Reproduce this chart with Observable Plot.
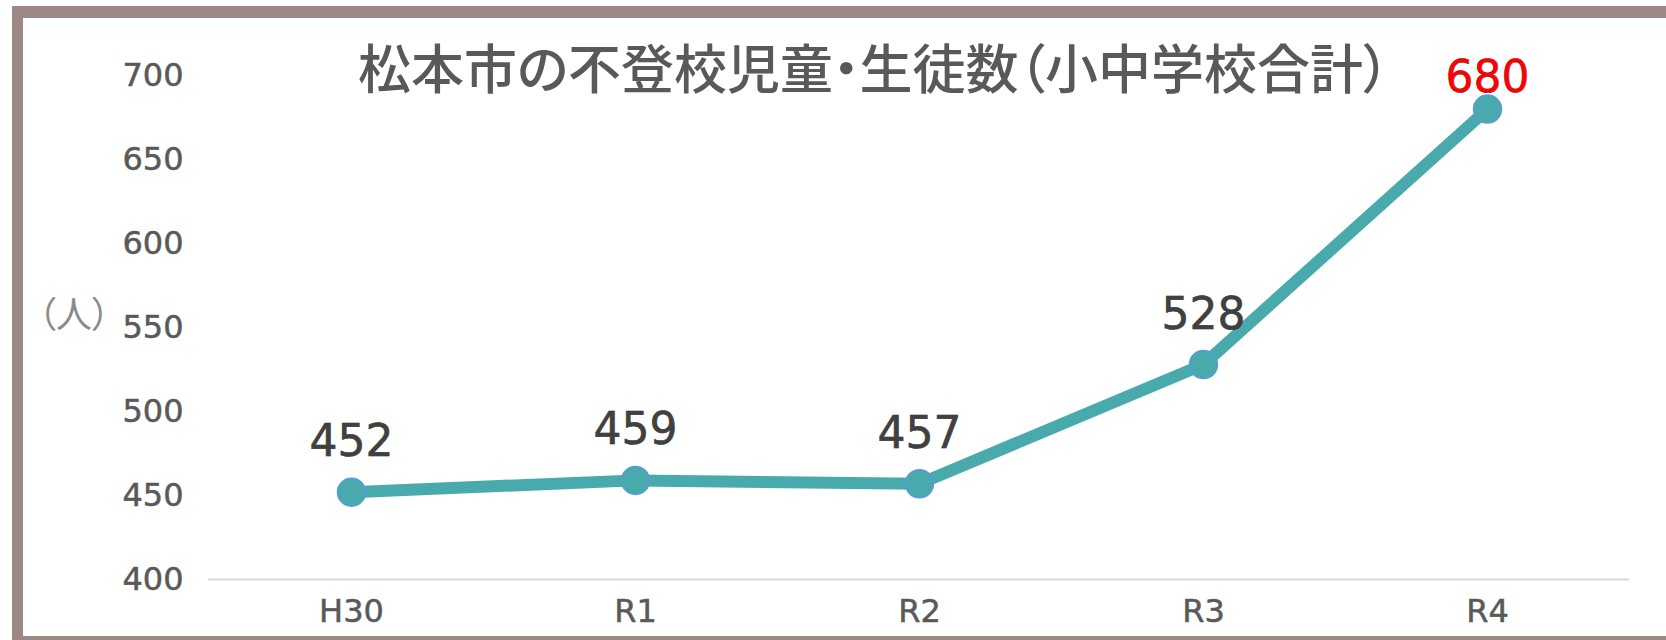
<!DOCTYPE html>
<html>
<head>
<meta charset="utf-8">
<script src="https://cdn.jsdelivr.net/npm/d3@7"></script>
<script src="https://cdn.jsdelivr.net/npm/@observablehq/plot@0.6"></script>
<style>
  html, body { margin: 0; padding: 0; background: #fff; overflow: hidden; }
  #wrap { position: relative; width: 1666px; height: 640px; overflow: hidden; background: #fff; }
  #frame { position: absolute; left: 12px; top: 6px; width: 1700px; height: 642px; box-sizing: border-box;
           border-style: solid; border-color: #9d8888; border-width: 12px 12px 12px 11px; background: #fff; }
  #chart { position: absolute; left: 0; top: 0; }
  #title { position: absolute; left: 358px; top: 40px; font-family: "Noto Sans CJK JP"; font-size: 53px; font-weight: 500;
           color: #595959; line-height: 1; white-space: nowrap; font-feature-settings: "palt"; }
  #unit { position: absolute; left: 38px; top: 294px; font-family: "Noto Sans CJK JP"; font-size: 36px;
          color: #8a8a8a; line-height: 1; white-space: nowrap; font-feature-settings: "palt"; }
  #chart g[aria-label="y-axis tick label"] text,
  #chart g[aria-label="x-axis tick label"] text { stroke: #595959; stroke-width: 0.5px; }
  #chart g[aria-label="text"] text { stroke: currentColor; }
</style>
</head>
<body>
<div id="wrap">
  <div id="frame"></div>
  <div id="chart"></div>
  <div id="title">松本市の不登校児童・生徒数（小中学校合計）</div>
  <div id="unit">（人）</div>
</div>
<script>
const years = ["H30", "R1", "R2", "R3", "R4"];
const counts = [452, 459, 457, 528, 680];
const yTicks = [400, 450, 500, 550, 600, 650, 700];

const data = years.map((y, i) => ({year: y, count: counts[i], last: i === years.length - 1}));

const teal = "#48aaad";

const plot = Plot.plot({
  width: 1666,
  height: 640,
  marginLeft: 208,
  marginRight: 37,
  marginTop: 75,
  marginBottom: 61,
  style: {fontFamily: "DejaVu Sans", background: "transparent", overflow: "visible"},
  x: {type: "point", domain: years, padding: 0.5},
  y: {domain: [400, 700]},
  marks: [
    Plot.ruleY([400], {stroke: "#d9d9d9", strokeWidth: 2}),
    Plot.axisY({ticks: yTicks, tickSize: 0, tickPadding: 25, fontSize: 32, fill: "#595959", label: null}),
    Plot.axisX({tickSize: 0, tickPadding: 20, fontSize: 32, fill: "#595959", label: null}),
    Plot.line(data, {x: "year", y: "count", stroke: teal, strokeWidth: 12, strokeLinejoin: "round"}),
    Plot.dot(data, {x: "year", y: "count", r: 14, fill: teal, stroke: "#5b9bd5", strokeWidth: 1.5}),
    Plot.text(data.filter(d => !d.last), {x: "year", y: "count", text: d => String(d.count), dy: -50, fontSize: 44, fill: "#404040", stroke: "#404040", strokeWidth: 0.5}),
    Plot.text(data.filter(d => d.last), {x: "year", y: "count", text: d => String(d.count), dy: -31, fontSize: 44, fill: "#ff0000", stroke: "#ff0000", strokeWidth: 0.5})
  ]
});
document.getElementById("chart").appendChild(plot);
</script>
</body>
</html>
